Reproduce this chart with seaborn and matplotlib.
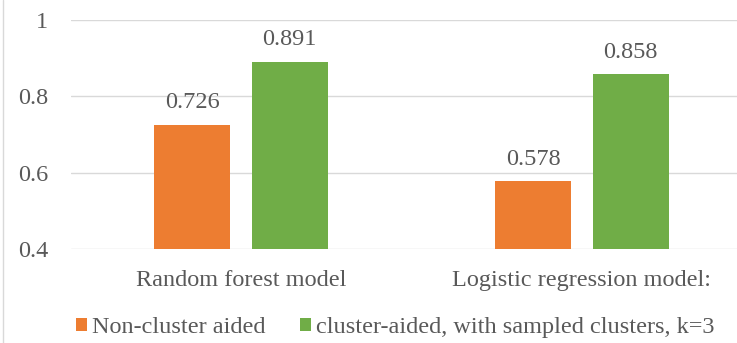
import matplotlib
matplotlib.use("Agg")
import matplotlib.pyplot as plt
import matplotlib.lines as mlines
import pandas as pd
import seaborn as sns

# Accuracy of two classifiers, with and without cluster aid
models = ["Random forest model", "Logistic regression model:"]
methods = ["Non-cluster aided", "cluster-aided, with sampled clusters, k=3"]
non_cluster = [0.726, 0.578]
cluster_aided = [0.891, 0.858]
y_ticks = [0.4, 0.6, 0.8, 1.0]
y_tick_labels = ["0.4", "0.6", "0.8", "1"]
colors = ["#ED7D31", "#70AD47"]

df = pd.DataFrame({
    "model": models * 2,
    "method": [methods[0]] * 2 + [methods[1]] * 2,
    "value": non_cluster + cluster_aided,
})

sns.set_theme(style="white")
plt.rcParams["font.family"] = ["Liberation Serif", "DejaVu Serif"]
text_color = "#595959"
grid_color = "#D9D9D9"
fs = 17.5

fig = plt.figure(figsize=(7.37, 3.43), dpi=100)
ax = fig.add_axes([70.5 / 737, 94 / 343, 682 / 737, 229 / 343])

sns.barplot(data=df, x="model", y="value", hue="method", hue_order=methods,
            palette=colors, width=0.572, gap=0.22, saturation=1,
            edgecolor="none", ax=ax, legend=True, zorder=3)

ax.set_xlim(-0.5, 1.5)
ax.set_ylim(0.4, 1.0)
ax.set_yticks(y_ticks)
ax.set_yticklabels(y_tick_labels)
ax.set_xlabel("")
ax.set_ylabel("")
for s in ax.spines.values():
    s.set_visible(False)
ax.yaxis.grid(True, color=grid_color, linewidth=1.0, zorder=0)
ax.set_axisbelow(True)
ax.tick_params(axis="y", length=0, pad=16, labelsize=fs, labelcolor=text_color)
ax.tick_params(axis="x", length=0, pad=15, labelsize=fs, labelcolor=text_color)

for container in ax.containers:
    ax.bar_label(container, fmt="%.3f", padding=8, fontsize=fs, color=text_color)

handles, labels = ax.get_legend_handles_labels()
ax.legend(handles, labels, loc="lower left", bbox_to_anchor=(76 / 737, 5 / 343),
          bbox_transform=fig.transFigure, ncol=2, frameon=False, fontsize=fs,
          labelcolor=text_color, handlelength=0.45, handleheight=0.45,
          handletextpad=0.2, columnspacing=1.43, borderpad=0, borderaxespad=0)

fig.add_artist(mlines.Line2D([2.5 / 737, 2.5 / 737], [0, 1], color=grid_color,
                             linewidth=1.0, transform=fig.transFigure))

fig.savefig("out.png", dpi=100)
